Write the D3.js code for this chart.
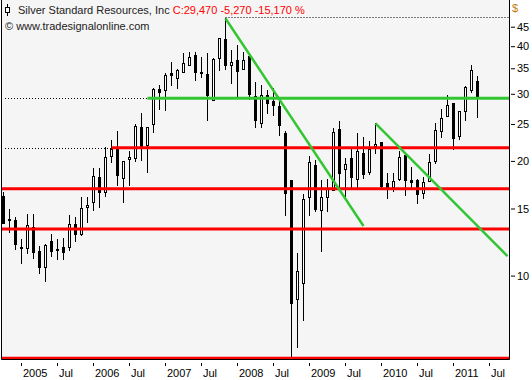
<!DOCTYPE html>
<html>
<head>
<meta charset="utf-8">
<script src="https://cdn.jsdelivr.net/npm/d3@7/dist/d3.min.js"></script>
<style>
body { margin: 0; background: #fff; }
text { font-family: "Liberation Sans", Arial, sans-serif; }
</style>
</head>
<body>
<svg id="chart" width="532" height="380"></svg>
<script>
// monthly bars, Silver Standard Resources
var months = ["2004-10","2004-11","2004-12",
  "2005-01","2005-02","2005-03","2005-04","2005-05","2005-06","2005-07","2005-08","2005-09","2005-10","2005-11","2005-12",
  "2006-01","2006-02","2006-03","2006-04","2006-05","2006-06","2006-07","2006-08","2006-09","2006-10","2006-11","2006-12",
  "2007-01","2007-02","2007-03","2007-04","2007-05","2007-06","2007-07","2007-08","2007-09","2007-10","2007-11","2007-12",
  "2008-01","2008-02","2008-03","2008-04","2008-05","2008-06","2008-07","2008-08","2008-09","2008-10","2008-11","2008-12",
  "2009-01","2009-02","2009-03","2009-04","2009-05","2009-06","2009-07","2009-08","2009-09","2009-10","2009-11","2009-12",
  "2010-01","2010-02","2010-03","2010-04","2010-05","2010-06","2010-07","2010-08","2010-09","2010-10","2010-11","2010-12",
  "2011-01","2011-02","2011-03","2011-04","2011-05"];
var open = [16.17,14.02,13.99,
  11.90,11.79,13.44,11.60,10.55,12.32,11.69,11.86,11.91,13.63,12.83,15.10,
  15.63,18.17,16.60,20.63,21.57,18.00,20.18,20.31,24.58,22.00,24.93,30.80,
  30.67,34.05,32.92,34.26,35.67,37.89,34.20,33.72,28.87,37.14,41.66,35.67,
  36.76,34.76,37.66,29.58,25.08,29.76,28.75,27.85,23.66,17.81,8.67,9.55,
  16.04,19.50,14.86,16.04,16.77,24.19,19.00,20.31,17.89,21.00,18.73,21.87,
  22.45,17.46,17.13,17.89,20.72,17.81,17.81,16.44,17.71,20.01,23.99,26.22,
  28.41,23.23,27.07,30.67,32.38];
var high = [16.54,14.95,14.27,
  12.45,14.51,14.51,11.96,12.08,12.86,12.47,12.53,14.42,14.27,16.04,16.10,
  19.12,19.12,21.78,22.68,23.95,20.00,21.22,24.93,26.65,24.49,30.99,31.61,
  33.93,36.26,34.82,38.28,38.65,38.65,37.51,38.28,37.14,41.91,47.29,39.05,
  40.25,38.65,37.66,32.25,31.61,30.67,30.99,29.40,23.95,17.81,11.44,16.37,
  20.59,20.10,17.81,17.89,24.34,25.44,20.31,21.44,23.70,23.14,22.54,25.08,
  22.45,18.55,18.60,21.22,20.72,19.23,17.89,18.17,20.84,25.08,27.30,29.76,
  28.41,27.07,31.42,35.67,33.38];
var low = [13.74,13.01,11.72,
  10.77,11.44,11.10,10.14,9.70,11.28,11.03,11.03,11.67,12.35,12.78,13.85,
  14.86,15.10,16.20,19.89,17.28,15.63,17.28,19.98,20.10,18.73,23.85,27.30,
  27.18,31.61,31.05,34.26,35.67,32.58,33.24,25.59,28.87,34.61,34.76,32.05,
  29.46,34.76,29.00,24.49,24.49,26.65,26.37,23.37,14.42,6.07,6.51,7.65,
  14.42,14.80,11.62,14.80,16.77,16.94,16.17,16.94,17.11,18.00,18.44,20.93,
  17.04,15.95,16.72,17.81,16.27,16.94,15.53,15.95,17.71,19.77,23.14,26.22,
  21.44,22.77,25.59,30.36,26.10];
var close = [13.76,14.08,12.08,
  11.84,13.57,11.55,10.55,12.03,11.62,11.73,11.55,13.63,12.88,15.01,15.32,
  18.25,16.54,20.43,21.48,18.36,19.98,20.47,24.68,21.91,24.49,30.80,30.36,
  33.58,33.52,34.61,36.17,37.37,34.13,34.05,29.76,36.92,41.91,35.67,36.26,
  34.46,36.76,29.94,25.59,29.76,28.41,28.02,24.90,16.44,8.46,10.28,15.88,
  19.89,14.95,16.10,16.94,23.85,18.62,19.62,18.10,21.22,18.44,21.44,22.13,
  17.23,16.97,17.71,20.43,17.87,17.62,16.34,17.57,19.82,24.09,25.85,28.02,
  22.91,27.07,31.18,34.74,29.47];

var tickMonths = ["2005-01","2005-07","2006-01","2006-07","2007-01","2007-07","2008-01","2008-07",
  "2009-01","2009-07","2010-01","2010-07","2011-01","2011-07"];
var tickLabels = ["2005","Jul","2006","Jul","2007","Jul","2008","Jul","2009","Jul","2010","Jul","2011","Jul"];
var priceTicks = [10, 15, 20, 25, 30, 35, 40, 45];

// drawn levels and trend lines
var redLevels = [21.65, 16.90, 13.25, 6.07];
var redStarts = ["2006-04", null, null, null];
var greenLevel = 29.2, greenStart = "2006-10";
var topLevel = 47.6, topStart = "2007-11";
var trendLines = [
  [["2007-11", 47.29], ["2009-10", 13.5]],
  [["2009-12", 25.08], ["2011-10", 11.25]]
];

var titleName = "Silver Standard Resources, Inc";
var titleQuote = "C:29,470 -5,270 -15,170 %";
var credit = "\u00a9 www.tradesignalonline.com";

function idx(m) {
  var p = m.split("-");
  return (+p[0] - 2004) * 12 + (+p[1] - 10);
}

var bars = months.map(function(m, i) {
  return { k: idx(m), o: open[i], h: high[i], l: low[i], c: close[i] };
});

var svg = d3.select("#chart");
var left = 2, right = 509, top = 1, bottom = 359;

var x = d3.scaleLinear().domain([0, 84.25]).range([3.5, 509]);
var y = d3.scaleLog().domain([10, 45]).range([275.6, 26.7]);

svg.append("rect").attr("x", 0).attr("y", 0).attr("width", 532).attr("height", 380).attr("fill", "#fff");
svg.append("rect").attr("x", left).attr("y", 0).attr("width", right - left).attr("height", bottom)
  .attr("fill", "#f5f5f5");

svg.append("clipPath").attr("id", "plotclip").append("rect")
  .attr("x", left).attr("y", 0).attr("width", right - left).attr("height", bottom);
var plot = svg.append("g").attr("clip-path", "url(#plotclip)");

var green = "#33c633", red = "#ff0000";

// dotted extensions
function dotted(x1, x2, v) {
  plot.append("line").attr("x1", x1).attr("x2", x2)
    .attr("y1", Math.round(y(v)) + 0.5).attr("y2", Math.round(y(v)) + 0.5)
    .attr("stroke", "#000").attr("stroke-width", 1).attr("stroke-dasharray", "1,2");
}
dotted(x(idx(topStart)), right, topLevel);
dotted(5, x(idx(greenStart)), greenLevel);
dotted(5, x(idx(redStarts[0])), redLevels[0]);

// candles
var wick = plot.selectAll(".wick").data(bars).enter().append("line")
  .attr("class", "wick")
  .attr("x1", function(d) { return Math.floor(x(d.k)) + 0.5; })
  .attr("x2", function(d) { return Math.floor(x(d.k)) + 0.5; })
  .attr("y1", function(d) { return Math.round(y(d.h)); })
  .attr("y2", function(d) { return Math.round(y(d.l)) + 1; })
  .attr("stroke", "#000").attr("stroke-width", 1);

plot.selectAll(".body").data(bars).enter().append("rect")
  .attr("class", "body")
  .attr("x", function(d) { return Math.floor(x(d.k)) - (d.c >= d.o ? 0.5 : 1); })
  .attr("y", function(d) { return Math.round(y(Math.max(d.o, d.c))) + (d.c >= d.o ? 0.5 : 0); })
  .attr("width", function(d) { return d.c >= d.o ? 2 : 3; })
  .attr("height", function(d) {
    var h = Math.round(y(Math.min(d.o, d.c))) - Math.round(y(Math.max(d.o, d.c)));
    return d.c >= d.o ? Math.max(h, 1) : Math.max(h + 1, 2);
  })
  .attr("fill", function(d) { return d.c >= d.o ? "#fff" : "#000"; })
  .attr("stroke", function(d) { return d.c >= d.o ? "#000" : "none"; })
  .attr("stroke-width", 1);

// horizontal levels
redLevels.forEach(function(v, i) {
  var x1 = redStarts[i] ? x(idx(redStarts[i])) : left;
  plot.append("line").attr("x1", x1).attr("x2", right)
    .attr("y1", y(v)).attr("y2", y(v))
    .attr("stroke", red).attr("stroke-width", 3);
});
plot.append("line").attr("x1", x(idx(greenStart))).attr("x2", right)
  .attr("y1", y(greenLevel)).attr("y2", y(greenLevel))
  .attr("stroke", green).attr("stroke-width", 3);

// trend lines
trendLines.forEach(function(t) {
  plot.append("line")
    .attr("x1", x(idx(t[0][0]))).attr("y1", y(t[0][1]))
    .attr("x2", x(idx(t[1][0]))).attr("y2", y(t[1][1]))
    .attr("stroke", green).attr("stroke-width", 2.5);
});

// title block
var title = svg.append("g");
title.append("rect").attr("x", 3).attr("y", 2).attr("width", 300).attr("height", 15).attr("fill", "#f5f5f5");
title.append("line").attr("x1", 7.5).attr("x2", 7.5).attr("y1", 4).attr("y2", 16).attr("stroke", "#000");
title.append("rect").attr("x", 5.5).attr("y", 7.5).attr("width", 4).attr("height", 5)
  .attr("fill", "#fff").attr("stroke", "#000");
var t1 = title.append("text").attr("x", 18).attr("y", 14).attr("font-size", 11);
t1.append("tspan").attr("fill", "#222").text(titleName + " ");
t1.append("tspan").attr("fill", red).text(titleQuote);
title.append("text").attr("x", 5).attr("y", 30).attr("font-size", 11).attr("fill", "#222").text(credit);

// frame
svg.append("path")
  .attr("d", "M1.5,0V" + (bottom + 0.5) + "H" + (right + 0.5) + "V0")
  .attr("fill", "none").attr("stroke", "#000");

// axes
var xAxis = d3.axisBottom(x)
  .tickValues(tickMonths.map(idx))
  .tickFormat(function(d, i) { return tickLabels[i]; })
  .tickSize(3);
var gx = svg.append("g").attr("transform", "translate(0,363)").call(xAxis);
gx.select(".domain").remove();
gx.selectAll(".tick line").attr("transform", "translate(-0.5,0)");
gx.selectAll(".tick text").attr("text-anchor", "start").attr("x", 1).attr("y", 6)
  .attr("font-size", 11).attr("font-family", "Liberation Sans, Arial, sans-serif").attr("fill", "#000");

var yAxis = d3.axisRight(y).tickValues(priceTicks).tickFormat(d3.format("d")).tickSize(4).tickPadding(2);
var gy = svg.append("g").attr("transform", "translate(511,0)").call(yAxis);
gy.select(".domain").remove();
gy.selectAll(".tick text").attr("font-size", 11)
  .attr("font-family", "Liberation Sans, Arial, sans-serif").attr("fill", "#000");

svg.append("text").attr("x", 512).attr("y", 12).attr("font-size", 11)
  .attr("fill", "#c07a10").text("$");
</script>
</body>
</html>
